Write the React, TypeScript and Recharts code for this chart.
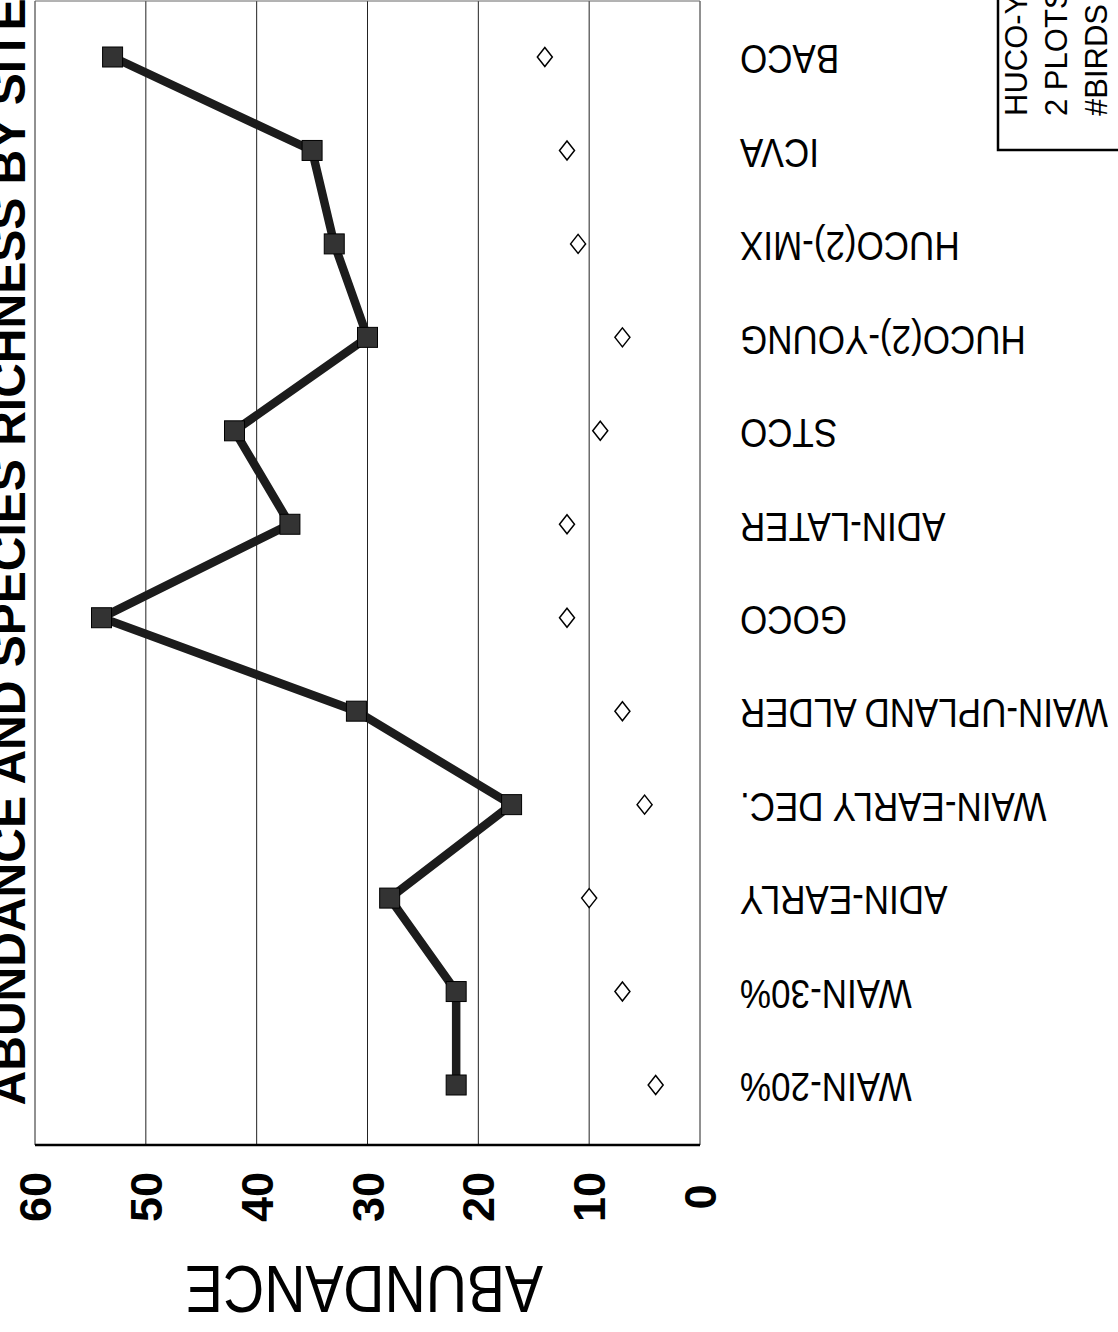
import React from 'react';
import { LineChart, Line, XAxis, YAxis, CartesianGrid } from 'recharts';

// sites as they run down the (rotated) scan, top to bottom
const sites = [
  'BACO',
  'ICVA',
  'HUCO(2)-MIX',
  'HUCO(2)-YOUNG',
  'STCO',
  'ADIN-LATER',
  'GOCO',
  'WAIN-UPLAND ALDER',
  'WAIN-EARLY DEC.',
  'ADIN-EARLY',
  'WAIN-30%',
  'WAIN-20%',
];
const abundance = [53, 35, 33, 30, 42, 37, 54, 31, 17, 28, 22, 22];
const richness = [14, 12, 11, 7, 9, 12, 12, 7, 5, 10, 7, 4];
const valueTicks = [0, 10, 20, 30, 40, 50, 60];

const title = 'ABUNDANCE AND SPECIES RICHNESS BY SITE';
const axisTitle = 'ABUNDANCE';
const legendLines = ['HUCO-YOUNG', '2 PLOTS', '#BIRDS (AVG.)'];

const data = sites.map((site, i) => ({ site, abundance: abundance[i], richness: richness[i] }));

const FONT = '"Liberation Sans", Arial, Helvetica, sans-serif';

const ValueTick = (props: any) => {
  const { x, y, payload } = props;
  return (
    <text
      transform={`translate(${x},${y + 50}) rotate(-90)`}
      textAnchor="middle"
      dy={16}
      fontSize={45}
      fontWeight="bold"
      fontFamily={FONT}
      fill="#000"
    >
      {payload.value}
    </text>
  );
};

const SiteTick = (props: any) => {
  const { x, y, payload } = props;
  return (
    <text
      transform={`translate(${x + 38},${y + 3}) rotate(180) scale(1,1.18)`}
      textAnchor="end"
      dy={12.5}
      fontSize={35}
      fontFamily={FONT}
      fill="#000"
    >
      {payload.value}
    </text>
  );
};

const SquareDot = (props: any) => {
  const { cx, cy, index } = props;
  if (cx == null || cy == null) return <g key={`sq-${index}`} />;
  return (
    <rect
      key={`sq-${index}`}
      x={cx - 10}
      y={cy - 10}
      width={20}
      height={20}
      fill="#333"
      stroke="#000"
      strokeWidth={1}
    />
  );
};

const DiamondDot = (props: any) => {
  const { cx, cy, index } = props;
  if (cx == null || cy == null) return <g key={`dm-${index}`} />;
  return (
    <path
      key={`dm-${index}`}
      d={`M${cx},${cy - 9.5} L${cx + 7.5},${cy} L${cx},${cy + 9.5} L${cx - 7.5},${cy} Z`}
      fill="#fff"
      stroke="#000"
      strokeWidth={1.5}
    />
  );
};

export default function App() {
  return (
    <div
      style={{
        position: 'absolute',
        left: 0,
        top: 0,
        width: 1118,
        height: 1332,
        overflow: 'hidden',
        background: '#fff',
      }}
    >
      <LineChart
        width={1118}
        height={1332}
        data={data}
        layout="vertical"
        margin={{ top: 0, right: 0, bottom: 0, left: 35 }}
      >
        <CartesianGrid horizontal={false} stroke="#222" strokeWidth={1} />
        <XAxis
          xAxisId="top"
          orientation="top"
          type="number"
          domain={[0, 60]}
          reversed
          height={1}
          tick={false}
          tickLine={false}
          axisLine={{ stroke: '#666', strokeWidth: 1 }}
        />
        <XAxis
          type="number"
          domain={[0, 60]}
          ticks={valueTicks}
          interval={0}
          reversed
          height={187}
          tickLine={false}
          tickSize={0}
          axisLine={{ stroke: '#000', strokeWidth: 2.5 }}
          tick={<ValueTick />}
        />
        <YAxis
          type="category"
          dataKey="site"
          orientation="right"
          width={418}
          interval={0}
          padding={{ top: 56, bottom: 60 }}
          axisLine={false}
          tickLine={false}
          tickSize={0}
          tick={<SiteTick />}
        />
        <Line
          dataKey="richness"
          stroke="none"
          dot={DiamondDot}
          activeDot={false}
          isAnimationActive={false}
        />
        <Line
          dataKey="abundance"
          stroke="#1c1c1c"
          strokeWidth={8.5}
          dot={SquareDot}
          activeDot={false}
          isAnimationActive={false}
        />
      </LineChart>

      <svg
        width={1118}
        height={1332}
        style={{ position: 'absolute', left: 0, top: 0, pointerEvents: 'none' }}
      >
        <text
          transform="translate(25,552) rotate(-90)"
          textAnchor="middle"
          fontSize={48}
          fontWeight="bold"
          fontFamily={FONT}
          fill="#000"
        >
          {title}
        </text>
        <text
          transform="translate(364,1266) rotate(180) scale(1,1.18)"
          textAnchor="middle"
          fontSize={57}
          fontFamily={FONT}
          fill="#000"
        >
          {axisTitle}
        </text>
        <rect x={998} y={-20} width={200} height={170} fill="#fff" stroke="#000" strokeWidth={2.5} />
        {legendLines.map((line, i) => (
          <text
            key={line}
            transform={`translate(${1027 + i * 40},116) rotate(-90)`}
            textAnchor="start"
            fontSize={31}
            fontFamily={FONT}
            fill="#000"
          >
            {line}
          </text>
        ))}
      </svg>
    </div>
  );
}
